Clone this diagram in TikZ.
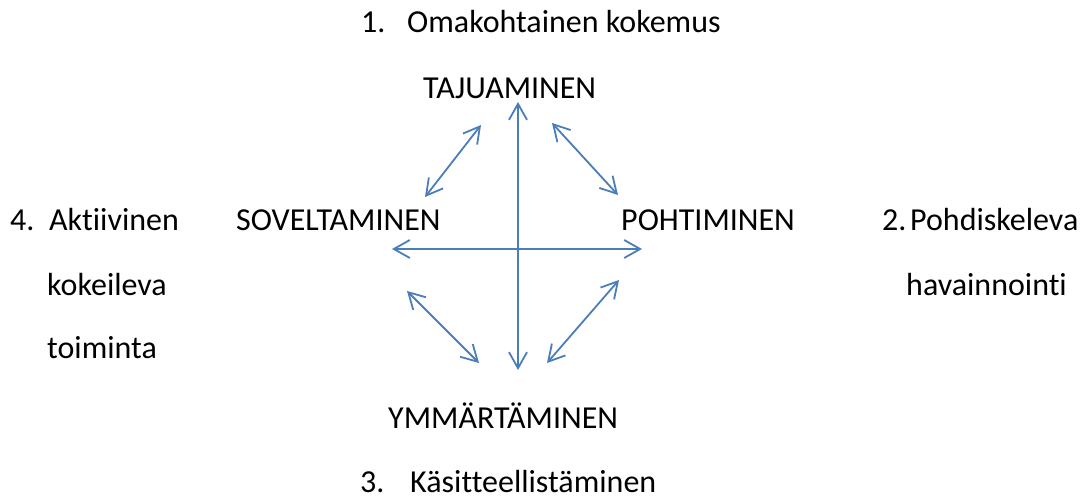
\documentclass[tikz,border=0pt]{standalone}
\usepackage{fontspec}
\setmainfont{Carlito}[Ligatures={NoCommon,NoContextual},RawFeature={-liga;-clig;-dlig}]
\usetikzlibrary{arrows.meta}
\definecolor{lineblue}{HTML}{4A7EBB}
\begin{document}
\begin{tikzpicture}[x=1pt,y=-1pt,
  lbl/.style={anchor=base west,inner sep=0pt,font=\fontsize{32}{38}\selectfont,text=black},
  biarrow/.style={draw=lineblue,line width=1.8pt,
    {Straight Barb[length=16pt,width=18pt,line width=1.8pt]}-{Straight Barb[length=16pt,width=18pt,line width=1.8pt]}}]
\useasboundingbox (0,0) rectangle (1092,497);
% texts
\node[lbl] (n1num) at (361,33) {1.};
\node[lbl] (n1) at (407,33) {Omakohtainen kokemus};
\node[lbl] (taju) at (423,99) {TAJUAMINEN};
\node[lbl] (sovel) at (236,230) {SOVELTAMINEN};
\node[lbl] (pohti) at (621,230) {POHTIMINEN};
\node[lbl] (n4num) at (10,230) {4.};
\node[lbl] (n4a) at (49,230) {Aktiivinen};
\node[lbl] (n4b) at (47,295) {kokeileva};
\node[lbl] (n4c) at (47,358) {toiminta};
\node[lbl] (n2num) at (882,230) {2.};
\node[lbl] (n2a) at (910,230) {Pohdiskeleva};
\node[lbl] (n2b) at (906,295) {havainnointi};
\node[lbl] (ymm) at (388,428) {YMMÄRTÄMINEN};
\node[lbl] (n3num) at (360,492) {3.};
\node[lbl] (n3) at (410,492) {Käsitteellistäminen};
% arrow endpoints
\coordinate (vt) at (518,102);
\coordinate (vb) at (518,370);
\coordinate (hl) at (392,249);
\coordinate (hr) at (642,249);
\coordinate (ula) at (425,197);
\coordinate (ulb) at (481,125);
\coordinate (ura) at (552,123);
\coordinate (urb) at (618,195);
\coordinate (lla) at (407,291);
\coordinate (llb) at (479,363);
\coordinate (lra) at (619,280);
\coordinate (lrb) at (547,363);
% arrows
\draw[biarrow] (vt) -- (vb);
\draw[biarrow] (hl) -- (hr);
\draw[biarrow] (ula) -- (ulb);
\draw[biarrow] (ura) -- (urb);
\draw[biarrow] (lla) -- (llb);
\draw[biarrow] (lra) -- (lrb);
\end{tikzpicture}
\end{document}
